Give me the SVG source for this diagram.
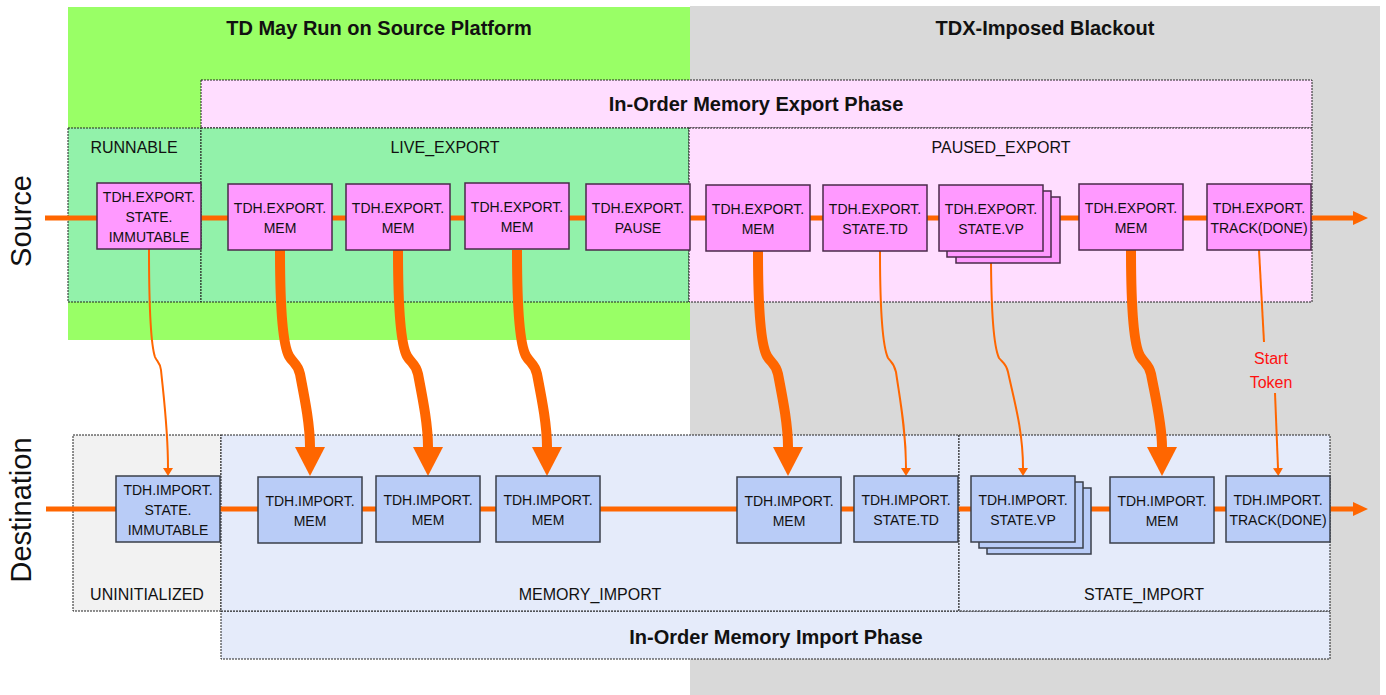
<svg xmlns="http://www.w3.org/2000/svg" width="1386" height="695" viewBox="0 0 1386 695">
<style>
text{font-family:"Liberation Sans",Arial,sans-serif;fill:#111}
.title{font-size:20px;font-weight:bold;text-anchor:middle}
.st{font-size:16px;text-anchor:middle}
.nt{font-size:14px;text-anchor:middle}
.side{font-size:29px;text-anchor:middle}
.dot{stroke:#222;stroke-width:1;stroke-dasharray:2 1}
.en{fill:#FF99FF;stroke:#4a2a4a;stroke-width:1.5}
.in{fill:#B9CCF7;stroke:#3a3f4a;stroke-width:1.5}
.line{stroke:#FF6600;stroke-width:5;fill:none}
.thick{stroke:#FF6600;stroke-width:10;fill:none}
.thin{stroke:#FF6600;stroke-width:2;fill:none}
</style>
<defs>
<marker id="mLine" markerUnits="userSpaceOnUse" markerWidth="15" markerHeight="14" viewBox="0 0 15 14" refX="0" refY="7" orient="auto"><path d="M0,0 L15,7 L0,14 z" fill="#FF6600"/></marker>
<marker id="mThick" markerUnits="userSpaceOnUse" markerWidth="29" markerHeight="30" viewBox="0 0 29 30" refX="0" refY="15" orient="auto"><path d="M0,0 L29,15 L0,30 z" fill="#FF6600"/></marker>
<marker id="mThin" markerUnits="userSpaceOnUse" markerWidth="8" markerHeight="10" viewBox="0 0 8 10" refX="0" refY="5" orient="auto"><path d="M0,0 L8,5 L0,10 z" fill="#FF6600"/></marker>
</defs>

<g id="background">
<rect x="68" y="7" width="622" height="333" fill="#99FF66"/>
<rect x="690" y="6" width="690" height="689" fill="#D9D9D9"/>
<text class="title" x="379" y="35">TD May Run on Source Platform</text>
<text class="title" x="1045" y="35">TDX-Imposed Blackout</text>
<text class="side" transform="translate(31,221) rotate(-90)">Source</text>
<text class="side" transform="translate(31,510) rotate(-90)">Destination</text>
</g>

<g id="export-phase">
<rect class="dot" x="201" y="80" width="1111" height="48" fill="#FFDDFF"/>
<text class="title" x="756" y="111">In-Order Memory Export Phase</text>
</g>
<g id="runnable">
<rect class="dot" x="68" y="128" width="133" height="174" fill="#92F2AA"/>
<text class="st" x="134" y="153">RUNNABLE</text>
</g>
<g id="live-export">
<rect class="dot" x="201" y="128" width="488" height="174" fill="#92F2AA"/>
<text class="st" x="445" y="153">LIVE_EXPORT</text>
</g>
<g id="paused-export">
<rect class="dot" x="689" y="128" width="623" height="174" fill="#FFDDFF"/>
<text class="st" x="1001" y="153">PAUSED_EXPORT</text>
</g>

<g id="uninitialized">
<rect class="dot" x="73" y="435" width="148" height="176" fill="#F2F2F2"/>
<text class="st" x="147" y="600">UNINITIALIZED</text>
</g>
<g id="import-phase">
<rect class="dot" x="221" y="611" width="1109" height="48" fill="#E5EBFA"/>
<text class="title" x="776" y="644">In-Order Memory Import Phase</text>
</g>
<g id="memory-import">
<rect class="dot" x="221" y="435" width="738" height="176" fill="#E5EBFA"/>
<text class="st" x="590" y="600">MEMORY_IMPORT</text>
</g>
<g id="state-import">
<rect class="dot" x="959" y="435" width="371" height="176" fill="#E5EBFA"/>
<text class="st" x="1144" y="600">STATE_IMPORT</text>
</g>

<g id="connectors">
<path class="line" d="M45,218 L1353,218" marker-end="url(#mLine)"/>
<path class="line" d="M46,509 L1353,509" marker-end="url(#mLine)"/>
<path class="thick" d="M280,250 C280,310 283,345 289,356 C293,363 298,364 300,374 C305,400 310,425 310,447" marker-end="url(#mThick)"/>
<path class="thick" d="M398,250 C398,310 401,345 407,356 C411,363 416,364 418,374 C423,400 428,425 428,447" marker-end="url(#mThick)"/>
<path class="thick" d="M517,250 C517,310 520,345 526,356 C530,363 535,364 537,374 C542,400 547,425 547,447" marker-end="url(#mThick)"/>
<path class="thick" d="M758,251 C758,310 761,345 767,356 C771,363 776,364 778,374 C783,400 788,425 788,447" marker-end="url(#mThick)"/>
<path class="thick" d="M1131,250 C1131,310 1134,345 1140,356 C1144,363 1149,364 1151,374 C1156,400 1162,425 1162,447" marker-end="url(#mThick)"/>
<path class="thin" d="M149,249 C149,300 151,345 155,357 C157,362 160,362 161,370 C164,400 168,430 168,468" marker-end="url(#mThin)"/>
<path class="thin" d="M880,251 C880,300 882,345 888,358 C891,362 894,363 896,372 C900,400 906,430 906,468" marker-end="url(#mThin)"/>
<path class="thin" d="M991,251 C991,300 993,345 999,358 C1002,362 1006,363 1008,372 C1014,400 1023,430 1023,468" marker-end="url(#mThin)"/>
<path class="thin" d="M1259,250 L1264,342"/>
<path class="thin" d="M1275,393 L1278,468" marker-end="url(#mThin)"/>
<text x="1271" y="364" style="font-size:16px;text-anchor:middle;fill:#FF1010">Start</text>
<text x="1271" y="388" style="font-size:16px;text-anchor:middle;fill:#FF1010">Token</text>
</g>

<g id="e-immutable"><rect class="en" x="97" y="183" width="104" height="66"/><text class="nt" x="149" y="202">TDH.EXPORT.</text><text class="nt" x="149" y="222">STATE.</text><text class="nt" x="149" y="242">IMMUTABLE</text></g>
<g id="e-mem1"><rect class="en" x="228" y="184" width="104" height="66"/><text class="nt" x="280" y="213">TDH.EXPORT.</text><text class="nt" x="280" y="233">MEM</text></g>
<g id="e-mem2"><rect class="en" x="346" y="184" width="104" height="66"/><text class="nt" x="398" y="213">TDH.EXPORT.</text><text class="nt" x="398" y="233">MEM</text></g>
<g id="e-mem3"><rect class="en" x="465" y="183" width="104" height="66"/><text class="nt" x="517" y="212">TDH.EXPORT.</text><text class="nt" x="517" y="232">MEM</text></g>
<g id="e-pause"><rect class="en" x="586" y="184" width="104" height="66"/><text class="nt" x="638" y="213">TDH.EXPORT.</text><text class="nt" x="638" y="233">PAUSE</text></g>
<g id="e-mem4"><rect class="en" x="706" y="185" width="104" height="66"/><text class="nt" x="758" y="214">TDH.EXPORT.</text><text class="nt" x="758" y="234">MEM</text></g>
<g id="e-statetd"><rect class="en" x="823" y="185" width="104" height="66"/><text class="nt" x="875" y="214">TDH.EXPORT.</text><text class="nt" x="875" y="234">STATE.TD</text></g>
<g id="e-statevp"><rect class="en" x="956" y="197" width="104" height="66"/><rect class="en" x="947" y="191" width="104" height="66"/><rect class="en" x="939" y="185" width="104" height="66"/><text class="nt" x="991" y="214">TDH.EXPORT.</text><text class="nt" x="991" y="234">STATE.VP</text></g>
<g id="e-mem5"><rect class="en" x="1079" y="184" width="104" height="66"/><text class="nt" x="1131" y="213">TDH.EXPORT.</text><text class="nt" x="1131" y="233">MEM</text></g>
<g id="e-track"><rect class="en" x="1207" y="184" width="104" height="66"/><text class="nt" x="1259" y="213">TDH.EXPORT.</text><text class="nt" x="1259" y="233">TRACK(DONE)</text></g>

<g id="i-immutable"><rect class="in" x="116" y="476" width="104" height="66"/><text class="nt" x="168" y="495">TDH.IMPORT.</text><text class="nt" x="168" y="515">STATE.</text><text class="nt" x="168" y="535">IMMUTABLE</text></g>
<g id="i-mem1"><rect class="in" x="258" y="477" width="104" height="66"/><text class="nt" x="310" y="506">TDH.IMPORT.</text><text class="nt" x="310" y="526">MEM</text></g>
<g id="i-mem2"><rect class="in" x="376" y="476" width="104" height="66"/><text class="nt" x="428" y="505">TDH.IMPORT.</text><text class="nt" x="428" y="525">MEM</text></g>
<g id="i-mem3"><rect class="in" x="496" y="476" width="104" height="66"/><text class="nt" x="548" y="505">TDH.IMPORT.</text><text class="nt" x="548" y="525">MEM</text></g>
<g id="i-mem4"><rect class="in" x="737" y="477" width="104" height="66"/><text class="nt" x="789" y="506">TDH.IMPORT.</text><text class="nt" x="789" y="526">MEM</text></g>
<g id="i-statetd"><rect class="in" x="854" y="476" width="104" height="66"/><text class="nt" x="906" y="505">TDH.IMPORT.</text><text class="nt" x="906" y="525">STATE.TD</text></g>
<g id="i-statevp"><rect class="in" x="987" y="488" width="104" height="66"/><rect class="in" x="979" y="482" width="104" height="66"/><rect class="in" x="971" y="476" width="104" height="66"/><text class="nt" x="1023" y="505">TDH.IMPORT.</text><text class="nt" x="1023" y="525">STATE.VP</text></g>
<g id="i-mem5"><rect class="in" x="1110" y="477" width="104" height="66"/><text class="nt" x="1162" y="506">TDH.IMPORT.</text><text class="nt" x="1162" y="526">MEM</text></g>
<g id="i-track"><rect class="in" x="1226" y="476" width="104" height="66"/><text class="nt" x="1278" y="505">TDH.IMPORT.</text><text class="nt" x="1278" y="525">TRACK(DONE)</text></g>
</svg>
